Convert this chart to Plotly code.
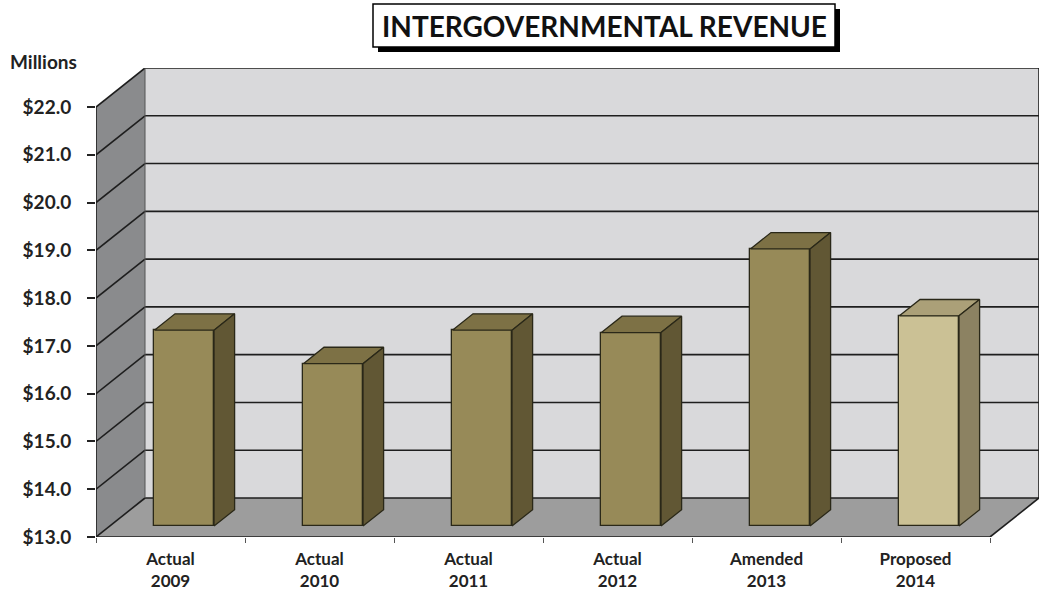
import plotly.graph_objects as go

# ---------------- data ----------------
categories = ["Actual<br>2009", "Actual<br>2010", "Actual<br>2011",
              "Actual<br>2012", "Amended<br>2013", "Proposed<br>2014"]
values = [17.1, 16.4, 17.1, 17.05, 18.8, 17.4]
y_ticks = [13, 14, 15, 16, 17, 18, 19, 20, 21, 22]
title_text = "INTERGOVERNMENTAL REVENUE"
unit_text = "Millions"

# ---------------- styles ----------------
front_colors = ["#978A58", "#978A58", "#978A58", "#978A58", "#978A58", "#CBC195"]
top_colors = ["#7D7145", "#7D7145", "#7D7145", "#7D7145", "#7D7145", "#ABA078"]
side_colors = ["#615734", "#615734", "#615734", "#615734", "#615734", "#8C8262"]
edge_color = "#2A2818"
FONT = "Lato"

W, H = 1048, 592
CAT_PX = 149.0                 # pixels per category
Y0, Y1 = y_ticks[0], y_ticks[-1]
VAL_PX = 430.0 / (Y1 - Y0)     # pixels per value unit
DEPTH_PX = (49.0, 39.0)        # 3-D depth offset (right, up)
L_MARGIN, B_MARGIN = 96, 55

n = len(categories)
ddx = DEPTH_PX[0] / CAT_PX
ddy = DEPTH_PX[1] / VAL_PX
plot_w = n * CAT_PX + DEPTH_PX[0]
plot_h = (Y1 - Y0) * VAL_PX + DEPTH_PX[1]
R_MARGIN = W - L_MARGIN - plot_w
T_MARGIN = H - B_MARGIN - plot_h

xmin, xmax = -0.5, n - 0.5
f0, f1 = 0.28, 0.70            # bar front / back depth fraction
bar_w = 0.40
bar_off = -bar_w / 2 + f0 * ddx


def px(x):
    return (x - L_MARGIN) / plot_w


def py(y):
    return (H - B_MARGIN - y) / plot_h


fig = go.Figure()

# ---------------- walls & floor (shapes below traces) ----------------
shapes = []
shapes.append(dict(type="rect", xref="x", yref="y", layer="below",
                   x0=xmin + ddx, x1=xmax + ddx, y0=Y0 + ddy, y1=Y1 + ddy,
                   fillcolor="#D9D9DB", line=dict(width=0)))
shapes.append(dict(type="path", xref="x", yref="y", layer="below",
                   path=f"M {xmin},{Y0} L {xmin + ddx},{Y0 + ddy} L {xmin + ddx},{Y1 + ddy} L {xmin},{Y1} Z",
                   fillcolor="#8A8B8D", line=dict(width=0)))
shapes.append(dict(type="path", xref="x", yref="y", layer="below",
                   path=f"M {xmin},{Y0} L {xmax},{Y0} L {xmax + ddx},{Y0 + ddy} L {xmin + ddx},{Y0 + ddy} Z",
                   fillcolor="#9D9D9D", line=dict(width=0)))
grid_line = dict(color="#1E1E1E", width=1.6)
for v in y_ticks:
    shapes.append(dict(type="line", xref="x", yref="y", layer="below",
                       x0=xmin + ddx, x1=xmax + ddx, y0=v + ddy, y1=v + ddy, line=grid_line))
    shapes.append(dict(type="line", xref="x", yref="y", layer="below",
                       x0=xmin, x1=xmin + ddx, y0=v, y1=v + ddy, line=grid_line))
shapes.append(dict(type="line", xref="x", yref="y", layer="below",
                   x0=xmin + ddx, x1=xmin + ddx, y0=Y0 + ddy, y1=Y1 + ddy,
                   line=dict(color="#555555", width=1)))
shapes.append(dict(type="line", xref="x", yref="y", layer="below",
                   x0=xmax + ddx, x1=xmax + ddx, y0=Y0 + ddy, y1=Y1 + ddy, line=grid_line))
shapes.append(dict(type="line", xref="x", yref="y", layer="below",
                   x0=xmax, x1=xmax + ddx, y0=Y0, y1=Y0 + ddy, line=grid_line))
shapes.append(dict(type="line", xref="x", yref="y", layer="below",
                   x0=xmin, x1=xmin, y0=Y0, y1=Y1, line=grid_line))
shapes.append(dict(type="line", xref="x", yref="y", layer="below",
                   x0=xmin, x1=xmax, y0=Y0, y1=Y0, line=grid_line))

# ---------------- title box ----------------
shapes.append(dict(type="rect", xref="paper", yref="paper", layer="above",
                   x0=px(378), x1=px(840), y0=py(52), y1=py(9),
                   fillcolor="#000000", line=dict(width=0)))
shapes.append(dict(type="rect", xref="paper", yref="paper", layer="above",
                   x0=px(373), x1=px(835), y0=py(47), y1=py(4),
                   fillcolor="#FFFFFF", line=dict(color="#000000", width=1.5)))

# ---------------- bars: front faces ----------------
fig.add_trace(go.Bar(
    x=list(range(n)), y=[v - Y0 for v in values], base=Y0 + f0 * ddy,
    width=bar_w, offset=bar_off,
    marker=dict(color=front_colors, line=dict(color=edge_color, width=1.3)),
    hoverinfo="skip", showlegend=False))

# ---------------- bars: top and side faces ----------------
bdx = (f1 - f0) * ddx
bdy = (f1 - f0) * ddy
for i, v in enumerate(values):
    xl = i + bar_off
    xr = xl + bar_w
    top = v + f0 * ddy
    base = Y0 + f0 * ddy
    fig.add_trace(go.Scatter(
        x=[xl, xl + bdx, xr + bdx, xr, xl],
        y=[top, top + bdy, top + bdy, top, top],
        mode="lines", fill="toself", fillcolor=top_colors[i],
        line=dict(color=edge_color, width=1.3), hoverinfo="skip", showlegend=False))
    fig.add_trace(go.Scatter(
        x=[xr, xr + bdx, xr + bdx, xr, xr],
        y=[base, base + bdy, top + bdy, top, base],
        mode="lines", fill="toself", fillcolor=side_colors[i],
        line=dict(color=edge_color, width=1.3), hoverinfo="skip", showlegend=False))

annotations = [
    dict(text=f"<b>{title_text}</b>", xref="paper", yref="paper",
         x=px(604), y=py(26), xanchor="center", yanchor="middle", showarrow=False,
         font=dict(family=FONT, size=28, color="#111111")),
    dict(text=f"<b>{unit_text}</b>", xref="paper", yref="paper",
         x=px(8), y=py(62), xanchor="left", yanchor="middle", showarrow=False,
         font=dict(family=FONT, size=19, color="#222222")),
]

fig.update_layout(
    width=W, height=H,
    margin=dict(l=L_MARGIN, r=R_MARGIN, t=T_MARGIN, b=B_MARGIN, pad=0),
    paper_bgcolor="#FFFFFF", plot_bgcolor="#FFFFFF",
    shapes=shapes, annotations=annotations,
    bargap=0, showlegend=False,
    xaxis=dict(range=[xmin, xmax + ddx], tickvals=list(range(n)),
               ticktext=[f"<b>{c}</b>" for c in categories],
               showgrid=False, zeroline=False, showline=False, ticks="",
               ticklabelstandoff=10, automargin=False,
               tickfont=dict(family=FONT, size=17, color="#222222"),
               minor=dict(tickvals=[i + 0.5 for i in range(-1, n)], ticks="outside",
                          ticklen=5, tickcolor="#555555", tickwidth=1),
               fixedrange=True),
    yaxis=dict(range=[Y0, Y1 + ddy], tickvals=y_ticks,
               ticktext=[f"<b>${t:.1f}</b>" for t in y_ticks],
               showgrid=False, zeroline=False, showline=False,
               ticks="outside", ticklen=8, tickwidth=1.5, tickcolor="#222222",
               ticklabelstandoff=12, automargin=False,
               tickfont=dict(family=FONT, size=19, color="#222222"),
               fixedrange=True),
)

fig.write_html("out.html")
